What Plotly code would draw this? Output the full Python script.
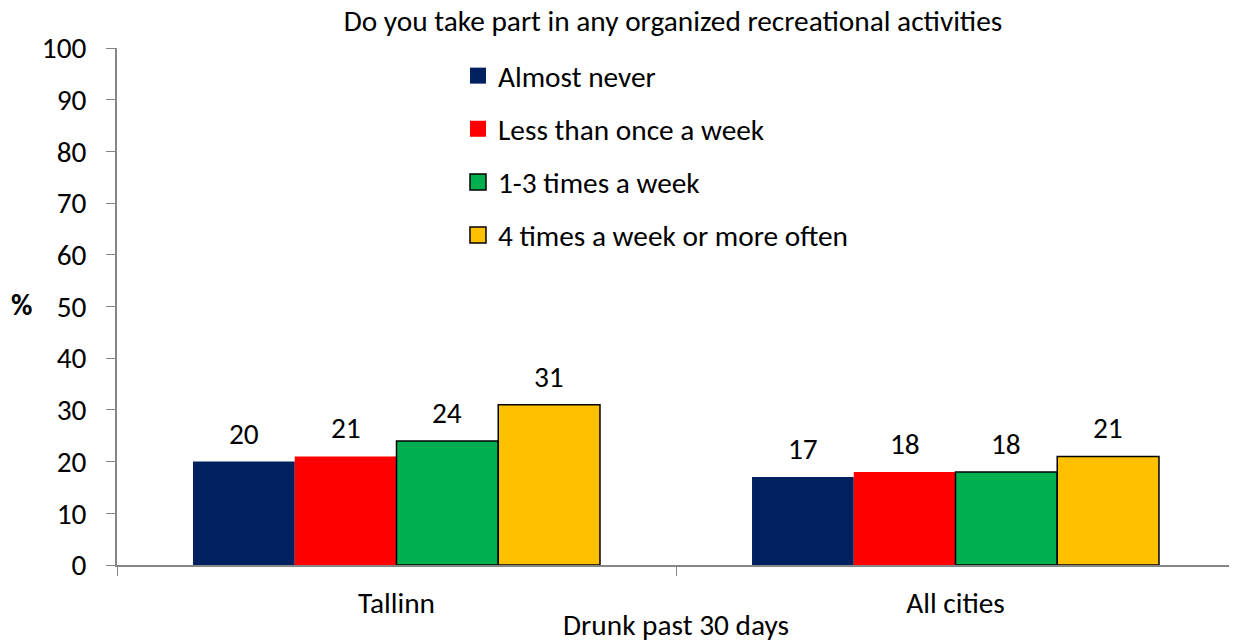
import plotly.graph_objects as go

categories = ["Tallinn", "All cities"]
series_names = ["Almost never", "Less than once a week", "1-3 times a week", "4 times a week or more often"]
almost_never = [20, 17]
less_than_weekly = [21, 18]
one_to_three = [24, 18]
four_plus = [31, 21]
y_ticks = list(range(0, 101, 10))

values = [almost_never, less_than_weekly, one_to_three, four_plus]
colors = ["#002060", "#FF0000", "#00B050", "#FFC000"]
line_w = [0, 0, 1.5, 1.5]

FONT = "Calibri, Carlito, Lato"
FS = 29.33
W, H = 1229, 635          # page body adds an 8px margin
ML, MR, MT, MB = 109, 2, 40, 78
BARGAP = 0.272

fig = go.Figure()
for i, (name, vals) in enumerate(zip(series_names, values)):
    fig.add_trace(go.Bar(
        x=categories, y=vals, name=name, showlegend=False, hoverinfo="x+y+name",
        marker=dict(color=colors[i], line=dict(color="black", width=line_w[i])),
    ))
    # legend swatch
    fig.add_trace(go.Scatter(
        x=[None], y=[None], mode="markers", name=name, legendgroup=f"g{i}",
        marker=dict(symbol="square", size=16, color=colors[i],
                    line=dict(color="black", width=line_w[i])),
    ))

# value labels above bars
plot_w = W - ML - MR
bar_w = plot_w / len(categories) * (1 - BARGAP) / len(values)
for i, vals in enumerate(values):
    for cat, v in zip(categories, vals):
        fig.add_annotation(x=cat, y=v, text=str(v), showarrow=False,
                           xshift=(i - (len(values) - 1) / 2) * bar_w,
                           yanchor="middle", yshift=28,
                           font=dict(size=FS, family=FONT, color="black"))

fig.update_layout(
    width=W, height=H,
    paper_bgcolor="white", plot_bgcolor="white",
    margin=dict(l=ML, r=MR, t=MT, b=MB),
    barmode="group", bargap=BARGAP, bargroupgap=0,
    font=dict(family=FONT, size=FS, color="black"),
    title=dict(text="Do you take part in any organized recreational activities",
               x=665 / W, xanchor="center", y=1 - 2 / H, yanchor="top", pad=dict(t=0),
               font=dict(size=FS, family=FONT, color="black")),
    legend=dict(x=0.305, y=0.996, xanchor="left", yanchor="top",
                font=dict(size=FS, family=FONT), tracegroupgap=12,
                bgcolor="rgba(0,0,0,0)", itemwidth=30),
    showlegend=True,
    xaxis=dict(showline=True, linecolor="#868686", linewidth=1.5,
               ticks="outside", tickson="boundaries", ticklen=9, tickcolor="#868686",
               tickfont=dict(size=FS, family=FONT), ticklabelstandoff=11,
               automargin=False,
               title=dict(text="Drunk past 30 days", font=dict(size=FS, family=FONT), standoff=0)),
    yaxis=dict(range=[0, 100], tickvals=y_ticks, showgrid=False, zeroline=False,
               showline=True, linecolor="#868686", linewidth=1.5,
               ticks="outside", ticklen=9, tickcolor="#868686",
               tickfont=dict(size=FS, family=FONT), ticklabelstandoff=14,
               automargin=False),
)
fig.add_annotation(text="<b>%</b>", xref="paper", yref="paper",
                   x=(13 - ML) / plot_w, y=(H - MB - 297) / (H - MT - MB),
                   xanchor="center", yanchor="middle",
                   showarrow=False, font=dict(size=FS, family=FONT, color="black"))

fig.write_html("out.html")
